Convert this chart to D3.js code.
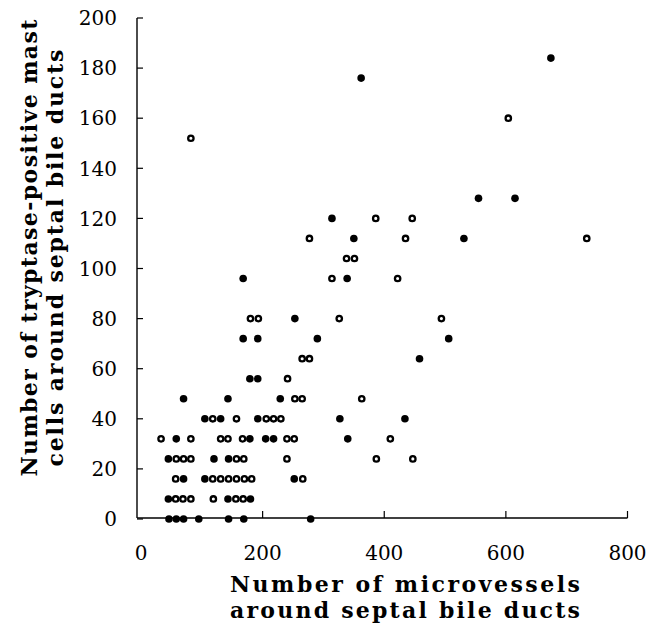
<!DOCTYPE html>
<html>
<head>
<meta charset="utf-8">
<script src="https://cdn.jsdelivr.net/npm/d3@7"></script>
<style>
  body { margin: 0; background: #fff; }
  text { font-family: "DejaVu Serif", serif; fill: #000; }
</style>
</head>
<body>
<div id="chart"></div>
<script>
// x = microvessels, y = tryptase-positive mast cells
let filled = [
  [46, 0], [58, 0], [70, 0], [95, 0], [144, 0], [169, 0], [279, 0],
  [45, 8], [143, 8], [180, 8],
  [70, 16], [105, 16], [252, 16],
  [45, 24], [120, 24], [144, 24],
  [58, 32], [179, 32], [205, 32], [218, 32], [340, 32],
  [105, 40], [131, 40], [192, 40], [327, 40], [434, 40],
  [70, 48], [143, 48], [229, 48],
  [179, 56], [192, 56],
  [458, 64],
  [168, 72], [192, 72], [290, 72], [506, 72],
  [253, 80],
  [168, 96], [339, 96],
  [350, 112], [531, 112],
  [314, 120],
  [555, 128], [615, 128],
  [362, 176], [674, 184]
];
let open = [
  [57, 8], [69, 8], [82, 8], [119, 8], [156, 8], [168, 8],
  [57, 16], [118, 16], [131, 16], [144, 16], [157, 16], [170, 16], [182, 16], [266, 16],
  [58, 24], [70, 24], [82, 24], [157, 24], [169, 24], [240, 24], [387, 24], [447, 24],
  [33, 32], [82, 32], [131, 32], [143, 32], [167, 32], [240, 32], [252, 32], [410, 32],
  [118, 40], [157, 40], [206, 40], [218, 40], [230, 40],
  [253, 48], [265, 48], [363, 48],
  [241, 56],
  [265, 64], [277, 64],
  [180, 80], [193, 80], [326, 80], [494, 80],
  [314, 96], [422, 96],
  [338, 104], [351, 104],
  [277, 112], [435, 112], [733, 112],
  [386, 120], [446, 120],
  [82, 152], [604, 160]
];
let xTicks = [0, 200, 400, 600, 800];
let yTicks = [0, 20, 40, 60, 80, 100, 120, 140, 160, 180, 200];
let xTitle = ['Number of microvessels', 'around septal bile ducts'];
let yTitle = ['Number of tryptase-positive mast', 'cells around septal bile ducts'];

let width = 664, height = 633;
let axisX = 137, axisY = 518;

let sx = d3.scaleLinear().domain([0, 800]).range([141, 627.5]);
let sy = d3.scaleLinear().domain([0, 200]).range([519, 18]);

let svg = d3.select('#chart').append('svg')
  .attr('width', width)
  .attr('height', height);

// axes lines
svg.append('line')
  .attr('x1', axisX).attr('x2', axisX)
  .attr('y1', sy(200)).attr('y2', axisY)
  .attr('stroke', '#000').attr('stroke-width', 1.4);
svg.append('line')
  .attr('x1', axisX).attr('x2', sx(800))
  .attr('y1', axisY).attr('y2', axisY)
  .attr('stroke', '#000').attr('stroke-width', 1.4);

// y ticks, pointing inward
let yt = svg.append('g');
yt.selectAll('line').data(yTicks).join('line')
  .attr('x1', axisX).attr('x2', axisX + 6)
  .attr('y1', d => sy(d)).attr('y2', d => sy(d))
  .attr('stroke', '#000').attr('stroke-width', 1.2);
yt.selectAll('text').data(yTicks).join('text')
  .attr('x', 117)
  .attr('y', d => sy(d))
  .attr('dy', '0.36em')
  .attr('text-anchor', 'end')
  .attr('font-size', 20)
  .text(d => d);

// x ticks, pointing up
let xt = svg.append('g');
xt.selectAll('line').data(xTicks.slice(1)).join('line')
  .attr('x1', d => sx(d)).attr('x2', d => sx(d))
  .attr('y1', axisY).attr('y2', axisY - 7)
  .attr('stroke', '#000').attr('stroke-width', 1.2);
xt.selectAll('text').data(xTicks).join('text')
  .attr('x', d => sx(d))
  .attr('y', 560)
  .attr('text-anchor', 'middle')
  .attr('font-size', 20)
  .text(d => d);

// titles (widths)
svg.append('g').selectAll('text').data(xTitle).join('text')
  .attr('x', 405)
  .attr('y', (d, i) => 592 + i * 26)
  .attr('text-anchor', 'middle')
  .attr('font-size', 22)
  .attr('font-weight', 'bold')
  .attr('textLength', 350)
  .attr('lengthAdjust', 'spacing')
  .text(d => d);

let yLen = [457, 417];
svg.append('g').selectAll('text').data(yTitle).join('text')
  .attr('transform', (d, i) => `translate(${37 + i * 26},${248 + i * 10}) rotate(-90)`)
  .attr('text-anchor', 'middle')
  .attr('font-size', 22)
  .attr('font-weight', 'bold')
  .attr('textLength', (d, i) => yLen[i])
  .attr('lengthAdjust', 'spacing')
  .text(d => d);

// points
let pts = svg.append('g');
pts.selectAll('circle.f').data(filled).join('circle')
  .attr('class', 'f')
  .attr('cx', d => sx(d[0]))
  .attr('cy', d => sy(d[1]))
  .attr('r', 3.8)
  .attr('fill', '#000');
pts.selectAll('circle.o').data(open).join('circle')
  .attr('class', 'o')
  .attr('cx', d => sx(d[0]))
  .attr('cy', d => sy(d[1]))
  .attr('r', 2.7)
  .attr('fill', '#fff')
  .attr('stroke', '#000')
  .attr('stroke-width', 2.3);
</script>
</body>
</html>
